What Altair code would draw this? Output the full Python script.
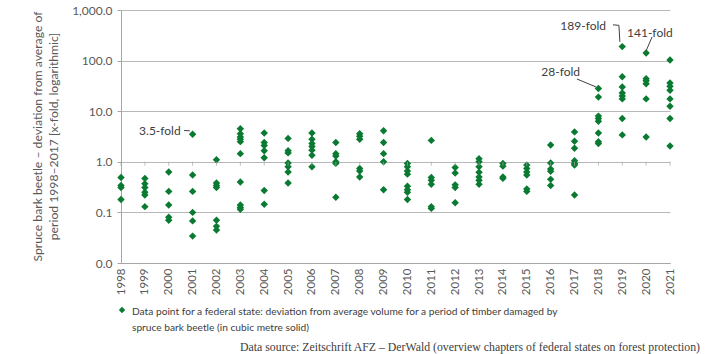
import altair as alt
import pandas as pd

FONT = "Lato"
GREEN = "#0a7a32"
GRAY = "#595959"

years = list(range(1998, 2022))
v1998 = [0.49, 0.34, 0.31, 0.18]
v1999 = [0.47, 0.37, 0.31, 0.25, 0.22, 0.13]
v2000 = [0.63, 0.26, 0.14, 0.08, 0.07]
v2001 = [3.5, 0.55, 0.26, 0.10, 0.068, 0.034]
v2002 = [1.1, 0.38, 0.34, 0.31, 0.07, 0.053, 0.045]
v2003 = [4.5, 3.6, 3.1, 2.8, 2.5, 1.45, 0.40, 0.14, 0.125, 0.115]
v2004 = [3.7, 2.4, 2.1, 1.65, 1.2, 0.27, 0.145]
v2005 = [2.9, 1.65, 1.5, 0.95, 0.8, 0.63, 0.38]
v2006 = [3.7, 2.8, 2.3, 2.0, 1.7, 1.35, 0.8]
v2007 = [2.4, 1.45, 1.3, 1.0, 0.93, 0.2]
v2008 = [3.6, 3.2, 2.8, 0.74, 0.66, 0.5]
v2009 = [4.1, 2.4, 1.45, 1.0, 0.28]
v2010 = [0.93, 0.8, 0.66, 0.57, 0.33, 0.28, 0.25, 0.18]
v2011 = [2.65, 0.49, 0.43, 0.36, 0.13, 0.12]
v2012 = [0.77, 0.6, 0.35, 0.31, 0.155]
v2013 = [1.15, 1.0, 0.8, 0.62, 0.5, 0.43, 0.36]
v2014 = [0.93, 0.82, 0.5, 0.47]
v2015 = [0.86, 0.74, 0.63, 0.55, 0.29, 0.26]
v2016 = [2.15, 0.95, 0.72, 0.65, 0.45, 0.34]
v2017 = [3.9, 2.55, 1.85, 1.05, 0.93, 0.86, 0.22]
v2018 = [28, 19, 8.0, 7.2, 6.3, 3.7, 2.5, 2.3]
v2019 = [189, 48, 30, 23, 20, 17.5, 7.2, 3.4]
v2020 = [141, 44, 40, 35, 17.5, 3.1]
v2021 = [103, 36, 31, 26, 17.5, 12.5, 7.2, 2.05]
values_by_year = [v1998, v1999, v2000, v2001, v2002, v2003, v2004, v2005,
                  v2006, v2007, v2008, v2009, v2010, v2011, v2012, v2013,
                  v2014, v2015, v2016, v2017, v2018, v2019, v2020, v2021]

y_ticks = [0.01, 0.1, 1, 10, 100, 1000]
y_title = ["Spruce bark beetle – deviation from average of",
           "period 1998–2017 [x-fold, logarithmic]"]
legend_text = ("Data point for a federal state: deviation from average volume for a period of timber damaged by\n"
               "spruce bark beetle (in cubic metre solid)")
source_text = "Data source: Zeitschrift AFZ – DerWald (overview chapters of federal states on forest protection)"

# annotation labels (position in data coordinates)
ann_text = ["3.5-fold", "189-fold", "141-fold", "28-fold"]
ann_x = [2000.5, 2018.32, 2019.2, 2017.23]
ann_y = [4.15, 487, 354, 59.7]
ann_align = ["right", "right", "left", "right"]
# leader lines
lead_id = [0, 0, 1, 1, 1, 2, 2, 3, 3]
lead_order = [0, 1, 0, 1, 2, 0, 1, 0, 1]
lead_x = [2000.64, 2000.88, 2018.61, 2018.86, 2018.9, 2020.25, 2020.0, 2017.1, 2017.9]
lead_y = [4.15, 4.1, 509, 498, 235, 294, 156, 43.4, 30.1]

rows = [{"year": y, "value": v} for y, vals in zip(years, values_by_year) for v in vals]
df = pd.DataFrame(rows)
tick_df = pd.DataFrame({"year": years, "value": [1] * len(years)})
ann_df = pd.DataFrame({"text": ann_text, "year": ann_x, "value": ann_y, "align": ann_align})
lead_df = pd.DataFrame({"id": lead_id, "o": lead_order, "year": lead_x, "value": lead_y})
one_df = pd.DataFrame({"k": [0]})

xscale = alt.Scale(domain=[1998, 2021], nice=False, zero=False)
yscale = alt.Scale(type="log", domain=[0.01, 1000], nice=False)

x_axis = alt.Axis(values=years, tickCount=30, format="d", labelAngle=270,
                  labelOverlap=False)
y_axis = alt.Axis(values=y_ticks, tickCount=10, format=",.1f")


def xq():
    return alt.X("year:Q", scale=xscale, title=None, axis=x_axis)


def yq():
    return alt.Y("value:Q", scale=yscale, title=y_title, axis=y_axis)


points = alt.Chart(df).mark_point(shape="diamond", filled=True, size=55,
                                  color=GREEN, opacity=1).encode(x=xq(), y=yq())

ticks = alt.Chart(tick_df).mark_tick(orient="vertical", size=4, thickness=1,
                                     color="#a6a6a6", yOffset=2).encode(x=xq(), y=yq())


def ann_layer(align):
    return alt.Chart(ann_df[ann_df["align"] == align]).mark_text(
        font=FONT, fontSize=12, color="#404040", baseline="middle", align=align).encode(
        x=xq(), y=yq(), text="text:N")


leads = alt.Chart(lead_df).mark_line(color="#404040", strokeWidth=1).encode(
    x=xq(), y=yq(), detail="id:N", order="o:Q")

leg_sym = alt.Chart(one_df).mark_point(shape="diamond", filled=True, size=40,
                                       color=GREEN, opacity=1).encode(
    x=alt.value(1), y=alt.value(300))
leg_txt = alt.Chart(one_df).mark_text(
    text=legend_text, lineBreak="\n", lineHeight=16, align="left", baseline="middle",
    font=FONT, fontSize=10.2, color="#404040").encode(x=alt.value(11), y=alt.value(302))
src_txt = alt.Chart(one_df).mark_text(
    text=source_text, align="right", baseline="alphabetic",
    font="Liberation Serif", fontSize=11.8, color="#404040").encode(
    x=alt.value(579), y=alt.value(341))

chart = alt.layer(points, ticks, leads, ann_layer("right"), ann_layer("left"),
                  leg_sym, leg_txt, src_txt).properties(
    width=549, height=253,
    padding={"left": 121, "top": 10, "right": 37, "bottom": 91},
    autosize=alt.AutoSizeParams(type="none"),
    background="white",
).configure_view(stroke=None).configure_axisX(
    ticks=False, grid=False, labelPadding=5, labelFont=FONT, labelFontSize=11.5,
    labelColor=GRAY, domainColor="#a6a6a6", labelFlush=False, labelBound=False,
).configure_axisY(
    grid=True, gridColor="#b8b8b8", gridWidth=1,
    tickSize=4, tickColor="#a6a6a6", domainColor="#a6a6a6",
    labelPadding=5, labelFont=FONT, labelFontSize=12, labelColor=GRAY,
    titleFont=FONT, titleFontSize=12.2, titleFontWeight="normal",
    titleColor=GRAY, titleAngle=270, titleAlign="center", titleBaseline="middle",
    titleLineHeight=16, titleX=-84, titleY=126,
)

chart.save("out.html", embed_options={"renderer": "svg", "actions": False})
